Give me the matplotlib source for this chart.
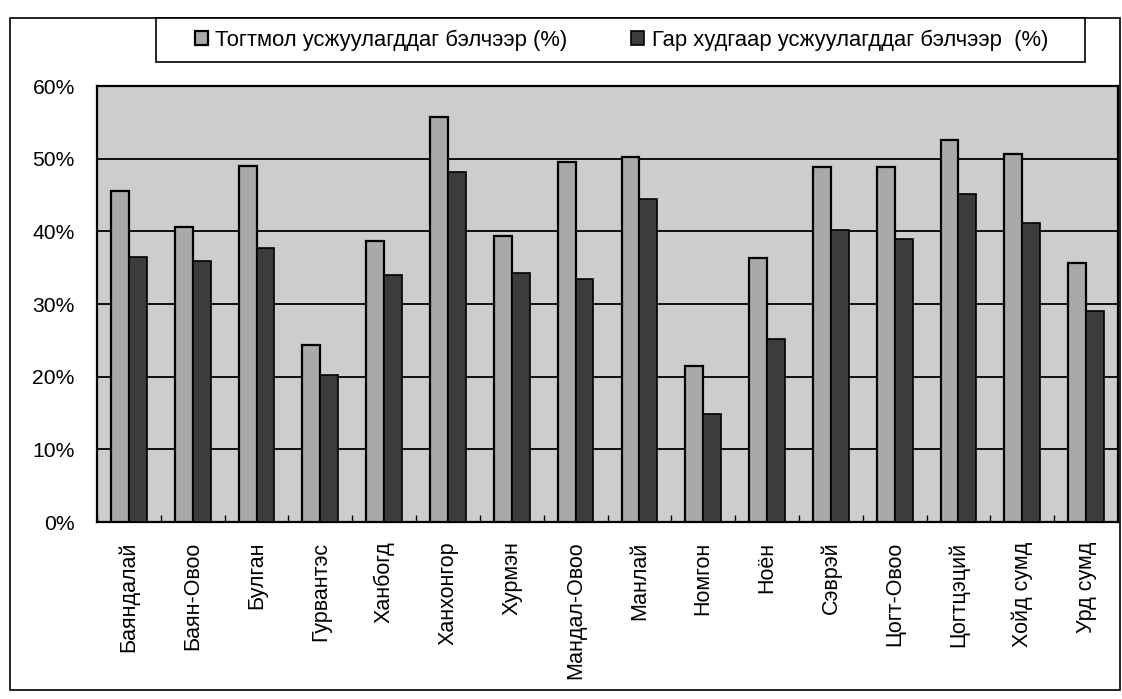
import matplotlib.pyplot as plt
import matplotlib.patches as mpatches
import numpy as np

plt.rcParams['font.family'] = ['Liberation Sans', 'DejaVu Sans']

# sums (soums) and shares of pasture
categories = ['Баяндалай', 'Баян-Овоо', 'Булган', 'Гурвантэс', 'Ханбогд',
              'Ханхонгор', 'Хурмэн', 'Мандал-Овоо', 'Манлай', 'Номгон',
              'Ноён', 'Сэврэй', 'Цогт-Овоо', 'Цогтцэций', 'Хойд сумд', 'Урд сумд']
regular = [45.5, 40.6, 49.0, 24.3, 38.7, 55.8, 39.3, 49.6, 50.2, 21.5,
           36.3, 48.8, 48.8, 52.6, 50.6, 35.6]
manual = [36.4, 35.9, 37.7, 20.2, 34.0, 48.2, 34.3, 33.4, 44.4, 14.9,
          25.2, 40.2, 39.0, 45.2, 41.2, 29.0]
series_names = ['Тогтмол усжуулагддаг бэлчээр (%)',
                'Гар худгаар усжуулагддаг бэлчээр  (%)']
yticks = [0, 10, 20, 30, 40, 50, 60]

fig = plt.figure(figsize=(11.22, 6.99), dpi=100)
ax = fig.add_axes([97 / 1122, 1 - 522 / 699, 1021 / 1122, 436 / 699])
ax.set_facecolor('#cdcdcd')

x = np.arange(len(categories))
w = 0.28
b1 = ax.bar(x - w / 2, regular, w, color='#a9a9a9', edgecolor='black',
            linewidth=1.6, label=series_names[0], zorder=3)
b2 = ax.bar(x + w / 2, manual, w, color='#3c3c3c', edgecolor='black',
            linewidth=1.2, label=series_names[1], zorder=3)

ax.set_xlim(-0.5, len(categories) - 0.5)
ax.set_ylim(0, 60)
ax.set_yticks(yticks)
ax.set_yticklabels([f'{t}%' for t in yticks], fontsize=15.2)
ax.yaxis.grid(True, color='black', linewidth=1.3, zorder=1)
ax.set_axisbelow(True)
ax.set_xticks(x)
ax.set_xticklabels(categories, rotation=90, fontsize=15.5)
ax.tick_params(axis='x', length=0, pad=14)
ax.tick_params(axis='y', length=0, pad=16)
ax.set_xticks(np.arange(len(categories) + 1) - 0.5, minor=True)
ax.tick_params(axis='x', which='minor', direction='in', length=5, width=1)
for s in ax.spines.values():
    s.set_linewidth(1.6)

# outer frame
fig.patches.append(mpatches.Rectangle((10 / 1122, 1 - 690 / 699), 1110 / 1122, 672 / 699,
                                      transform=fig.transFigure, fill=False,
                                      edgecolor='black', linewidth=1.2))
# legend frame
fig.patches.append(mpatches.Rectangle((156 / 1122, 1 - 62 / 699), 929 / 1122, 44 / 699,
                                      transform=fig.transFigure, fill=True,
                                      facecolor='white', edgecolor='black',
                                      linewidth=1.2, zorder=2))
leg = fig.legend(handles=[b1, b2], loc='center left',
                 bbox_to_anchor=(177 / 1122, 1 - 40 / 699),
                 ncol=2, fontsize=15.8, frameon=False,
                 handlelength=0.6, handleheight=0.6, handletextpad=0.35,
                 columnspacing=2.9, borderpad=0.3)
leg.set_zorder(5)

plt.savefig('out.png', dpi=100)
